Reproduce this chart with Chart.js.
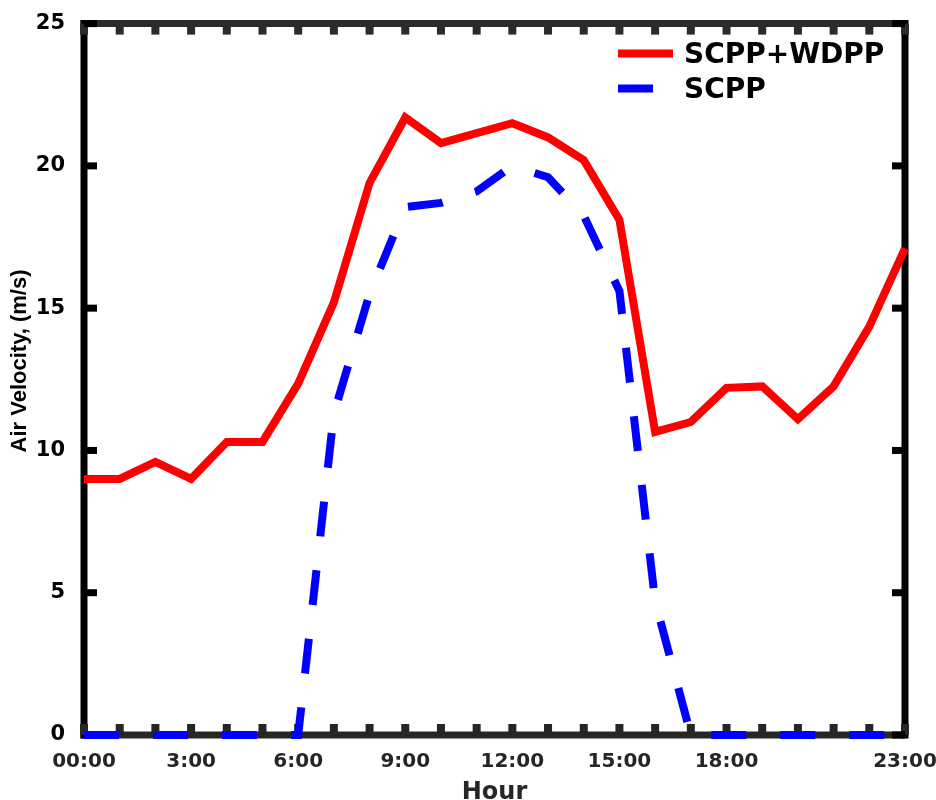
<!DOCTYPE html>
<html>
<head>
<meta charset="utf-8">
<title>Air Velocity</title>
<script src="https://cdn.jsdelivr.net/npm/chart.js@4.4.1/dist/chart.umd.min.js"></script>
<style>
  body { margin: 0; background: #fff; }
  #chart { display: block; }
</style>
</head>
<body>
<canvas id="chart" width="936" height="800"></canvas>
<script>
const hours = ['00:00', '1:00', '2:00', '3:00', '4:00', '5:00', '6:00', '7:00', '8:00', '9:00', '10:00', '11:00',
               '12:00', '13:00', '14:00', '15:00', '16:00', '17:00', '18:00', '19:00', '20:00', '21:00', '22:00', '23:00'];
const shownHours = ['00:00', '3:00', '6:00', '9:00', '12:00', '15:00', '18:00', '23:00'];

const scppWdpp = [9.0, 9.0, 9.6, 9.0, 10.3, 10.3, 12.35, 15.2, 19.4, 21.7, 20.8, 21.15,
                  21.5, 21.0, 20.2, 18.1, 10.65, 11.0, 12.2, 12.25, 11.1, 12.25, 14.35, 17.1];
const scpp = [0, 0, 0, 0, 0, 0, 0, 11.3, 15.5, 18.55, 18.7, 19.1,
              20.0, 19.6, 18.25, 15.6, 4.7, 0, 0, 0, 0, 0, 0, 0];

const yMin = 0;
const yMax = 25;
const yStep = 5;

// box around the plot with short ticks pointing inwards
const framePlugin = {
    id: 'frame',
    beforeDatasetsDraw(chart) {
        const {ctx, chartArea: a, scales: {x, y}} = chart;
        const w = 7;
        ctx.save();
        ctx.lineWidth = w;
        ctx.strokeStyle = '#2b2b2b';
        ctx.beginPath(); ctx.moveTo(a.left - w / 2, a.top); ctx.lineTo(a.right, a.top); ctx.stroke();
        ctx.strokeStyle = '#262626';
        ctx.beginPath(); ctx.moveTo(a.left - w / 2, a.bottom); ctx.lineTo(a.right, a.bottom); ctx.stroke();
        ctx.strokeStyle = '#000';
        ctx.beginPath(); ctx.moveTo(a.left, a.top - w / 2); ctx.lineTo(a.left, a.bottom + w / 2); ctx.stroke();
        ctx.beginPath(); ctx.moveTo(a.right, a.top - w / 2); ctx.lineTo(a.right, a.bottom + w / 2); ctx.stroke();

        x.ticks.forEach((t, i) => {
            const px = x.getPixelForTick(i);
            ctx.fillStyle = '#262626';
            ctx.fillRect(px - 4, a.bottom - 11, 8, 11);
            ctx.fillStyle = '#2b2b2b';
            ctx.fillRect(px - 4, a.top, 8, 11);
        });
        ctx.fillStyle = '#000';
        y.ticks.forEach((t, i) => {
            const py = y.getPixelForTick(i);
            ctx.fillRect(a.left, py - 3.5, 13, 7);
            ctx.fillRect(a.right - 13, py - 3.5, 13, 7);
        });
        ctx.restore();
    }
};

// legend sitting inside the plot, top right
const cornerLegend = {
    id: 'cornerLegend',
    afterDraw(chart) {
        const {ctx, chartArea: a} = chart;
        ctx.save();
        ctx.font = 'bold 28px "DejaVu Sans"';
        ctx.textBaseline = 'middle';
        chart.data.datasets.forEach((ds, i) => {
            const ly = a.top + 30 + i * 35;
            const lx = a.right - 287;
            ctx.strokeStyle = ds.borderColor;
            ctx.lineWidth = ds.borderWidth;
            ctx.setLineDash(ds.borderDash || []);
            ctx.beginPath(); ctx.moveTo(lx, ly); ctx.lineTo(lx + 55, ly); ctx.stroke();
            ctx.setLineDash([]);
            ctx.fillStyle = '#000';
            ctx.fillText(ds.label, lx + 66, ly + 2);
        });
        ctx.restore();
    }
};

const ctx = document.querySelector('#chart').getContext('2d');
const chart = new Chart(ctx, {
    type: 'line',
    data: {
        labels: hours,
        datasets: [
            {
                label: 'SCPP+WDPP',
                data: scppWdpp,
                borderColor: '#ff0000',
                borderWidth: 8,
                pointRadius: 0,
                tension: 0
            },
            {
                label: 'SCPP',
                data: scpp,
                borderColor: '#0000ff',
                borderWidth: 8,
                borderDash: [35, 34],
                pointRadius: 0,
                tension: 0,
                clip: false
            }
        ]
    },
    options: {
        responsive: false,
        animation: false,
        layout: {
            padding: {top: 17, right: 31, left: 0, bottom: 0}
        },
        scales: {
            x: {
                // fixed band under the plot; the last label may hang into the right margin
                afterFit: (s) => {
                    s.height = 65;
                    s.paddingLeft = 0;
                    s.paddingRight = 0;
                },
                grid: {display: false},
                border: {display: false},
                ticks: {
                    autoSkip: false,
                    maxRotation: 0,
                    padding: 7,
                    color: '#262626',
                    font: {family: 'DejaVu Sans', weight: 'bold', size: 20},
                    callback: (val, i) => shownHours.includes(hours[i]) ? hours[i] : ''
                },
                title: {
                    display: true,
                    text: 'Hour',
                    color: '#262626',
                    font: {family: 'DejaVu Sans', weight: 'bold', size: 24, lineHeight: 1},
                    padding: {top: 0, bottom: -5}
                }
            },
            y: {
                min: yMin,
                max: yMax,
                afterFit: (s) => { s.width = 84; },
                grid: {display: false},
                border: {display: false},
                ticks: {
                    stepSize: yStep,
                    padding: 11,
                    color: '#000',
                    font: {family: 'DejaVu Sans', weight: 'bold', size: 21}
                },
                title: {
                    display: true,
                    text: '      Air Velocity, (m/s)',
                    color: '#000',
                    font: {family: 'Liberation Sans', weight: 'bold', size: 22},
                    padding: {top: 7, bottom: 0}
                }
            }
        },
        plugins: {
            legend: {display: false},
            tooltip: {enabled: false}
        }
    },
    plugins: [framePlugin, cornerLegend]
});
</script>
</body>
</html>
